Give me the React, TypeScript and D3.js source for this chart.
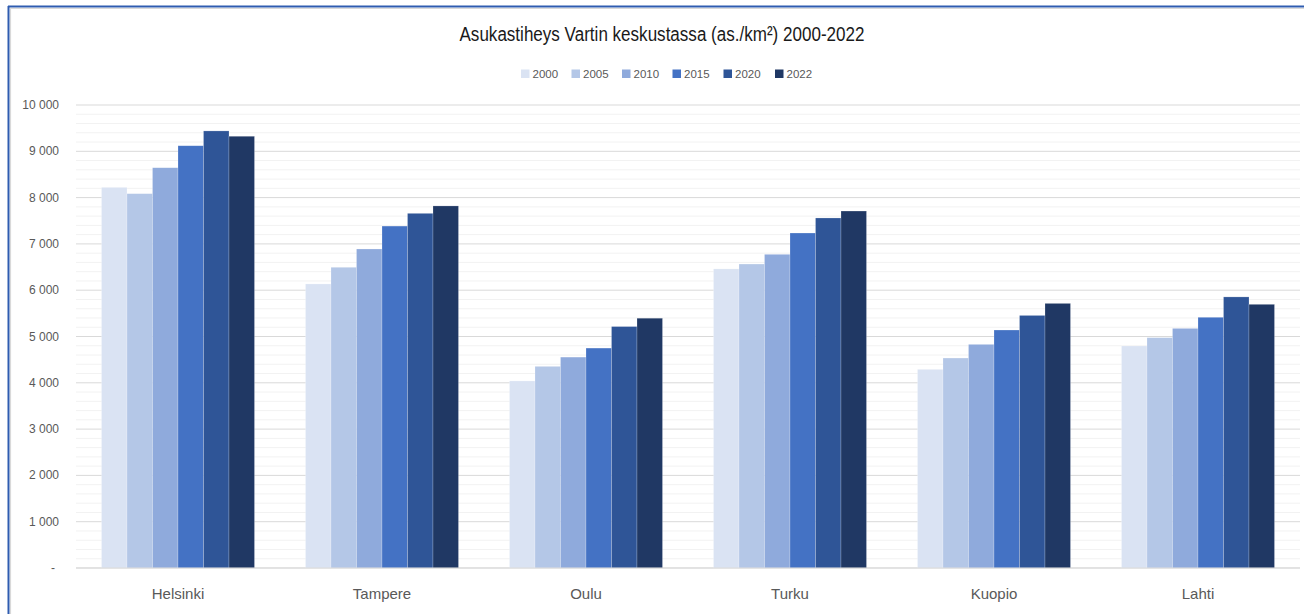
import React from "react";
import * as d3 from "d3";

const categories = ["Helsinki", "Tampere", "Oulu", "Turku", "Kuopio", "Lahti"];
const years = ["2000", "2005", "2010", "2015", "2020", "2022"];
const v2000 = [8220, 6135, 4040, 6460, 4290, 4795];
const v2005 = [8085, 6495, 4355, 6565, 4535, 4975];
const v2010 = [8645, 6890, 4555, 6775, 4830, 5175];
const v2015 = [9120, 7385, 4750, 7235, 5140, 5415];
const v2020 = [9440, 7660, 5215, 7560, 5455, 5855];
const v2022 = [9325, 7820, 5395, 7710, 5715, 5695];
const seriesValues = [v2000, v2005, v2010, v2015, v2020, v2022];
const colors = ["#dae3f3", "#b4c7e7", "#8faadc", "#4472c4", "#2f5597", "#203864"];
const yTicks = [0, 1000, 2000, 3000, 4000, 5000, 6000, 7000, 8000, 9000, 10000];
const title = "Asukastiheys Vartin keskustassa (as./km²) 2000-2022";

const W = 1304;
const H = 614;
const FONT = "'Liberation Sans', Arial, sans-serif";

export default function App() {
  const left = 76, right = 1300, top = 105, bottom = 568;
  const x0 = d3.scaleBand<string>().domain(categories).range([left, right]).paddingInner(0).paddingOuter(0);
  const groupW = 153;
  const x1 = d3.scaleBand<string>().domain(years).range([0, groupW]);
  const y = d3.scaleLinear().domain([0, 10000]).range([bottom, top]);
  const minor = d3.range(200, 10001, 200).filter((v) => v % 1000 !== 0);
  const fmt = (v: number) => (v === 0 ? "-" : d3.format(",")(v).replace(/,/g, " "));
  const legendX = [521, 571.5, 622, 672.5, 723.5, 775];

  return (
    <svg width={W} height={H} style={{ position: "absolute", left: 0, top: 0, background: "#fff" }}>
      <rect x={0} y={0} width={W} height={H} fill="#fff" />
      {/* border */}
      <line x1={10.5} y1={8} x2={10.5} y2={H} stroke="#d9d9d9" strokeWidth={1.2} />
      <line x1={10} y1={8.5} x2={W} y2={8.5} stroke="#d9d9d9" strokeWidth={1.2} />
      <line x1={8.5} y1={6} x2={8.5} y2={H} stroke="#2f5cb0" strokeWidth={2} />
      <line x1={8} y1={6.5} x2={W} y2={6.5} stroke="#2f5cb0" strokeWidth={2} />

      <text x={662} y={41} textAnchor="middle" fontFamily={FONT} fontSize={20} fill="#1a1a1a"
        textLength={405} lengthAdjust="spacingAndGlyphs">{title}</text>

      {years.map((yr, i) => (
        <g key={yr}>
          <rect x={legendX[i]} y={69.5} width={8.5} height={8.5} fill={colors[i]} />
          <text x={legendX[i] + 11.5} y={78} fontFamily={FONT} fontSize={11.5} fill="#595959">{yr}</text>
        </g>
      ))}

      {minor.map((v) => (
        <line key={"m" + v} x1={left} x2={right} y1={y(v)} y2={y(v)} stroke="#f2f2f2" strokeWidth={1} />
      ))}
      {yTicks.map((v) => (
        <line key={"g" + v} x1={left} x2={right} y1={y(v)} y2={y(v)} stroke="#d9d9d9" strokeWidth={1} />
      ))}
      {yTicks.map((v) => (
        <text key={"t" + v} x={v === 0 ? 55 : 59} y={y(v) + 4} textAnchor="end" fontFamily={FONT} fontSize={12} fill="#595959">
          {fmt(v)}
        </text>
      ))}

      {categories.map((c, ci) => {
        const gx = (x0(c) as number) + (x0.bandwidth() - groupW) / 2;
        return (
          <g key={c}>
            {years.map((yr, si) => {
              const v = seriesValues[si][ci];
              return (
                <rect key={yr} x={gx + (x1(yr) as number)} y={y(v)} width={x1.bandwidth()} height={bottom - y(v)}
                  fill={colors[si]} stroke="#ffffff" strokeOpacity={0.35} strokeWidth={0.6} />
              );
            })}
            <text x={(x0(c) as number) + x0.bandwidth() / 2} y={599} textAnchor="middle" fontFamily={FONT}
              fontSize={15} fill="#595959">{c}</text>
          </g>
        );
      })}
      <line x1={left} x2={right} y1={bottom} y2={bottom} stroke="#d9d9d9" strokeWidth={1} />
    </svg>
  );
}
